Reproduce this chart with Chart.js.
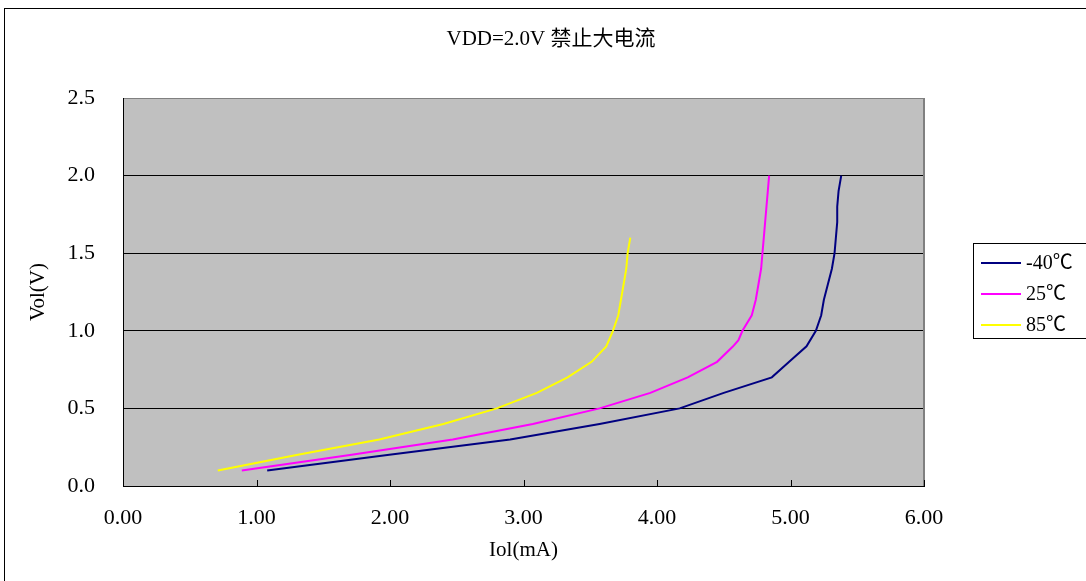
<!DOCTYPE html>
<html>
<head>
<meta charset="utf-8">
<title>VDD=2.0V 禁止大电流</title>
<script src="https://cdn.jsdelivr.net/npm/chart.js@4/dist/chart.umd.min.js"></script>
<style>
    body { margin: 0; background: #fff; }
    #wrap { width: 1086px; height: 581px; }
</style>
</head>
<body>
<div id="wrap"><canvas id="iolChart" width="1086" height="581"></canvas></div>
<script>
// Chart data
const chartTitle = 'VDD=2.0V 禁止大电流';
const xTitle = 'Iol(mA)';
const yTitle = 'Vol(V)';
const seriesNames = ['-40℃', '25℃', '85℃'];
const seriesColors = ['#000080', '#ff00ff', '#ffff00'];

// Vol (V) steps
const volM40 = [0.1, 0.2, 0.3, 0.4, 0.5, 0.6, 0.7, 0.8, 0.9, 1.0, 1.1, 1.2, 1.3, 1.4, 1.5, 1.6, 1.7, 1.8, 1.9, 2.0];
const vol25 = [0.1, 0.2, 0.3, 0.4, 0.5, 0.6, 0.7, 0.8, 0.9, 0.94, 1.0, 1.1, 1.2, 1.3, 1.4, 1.5, 1.6, 1.7, 1.8, 1.9, 2.0];
const vol85 = [0.1, 0.2, 0.3, 0.4, 0.5, 0.6, 0.7, 0.8, 0.9, 1.0, 1.1, 1.2, 1.3, 1.4, 1.5, 1.6];

// Iol (mA) at each step
const iolM40 = [1.08, 1.98, 2.90, 3.57, 4.17, 4.50, 4.86, 4.99, 5.12, 5.19, 5.23, 5.25, 5.28, 5.31, 5.33, 5.34, 5.35, 5.35, 5.36, 5.38];
const iol25 = [0.89, 1.70, 2.47, 3.07, 3.57, 3.95, 4.23, 4.45, 4.57, 4.61, 4.64, 4.71, 4.74, 4.76, 4.78, 4.79, 4.80, 4.81, 4.82, 4.83, 4.84];
const iol85 = [0.71, 1.30, 1.92, 2.40, 2.80, 3.10, 3.33, 3.51, 3.62, 3.67, 3.71, 3.73, 3.75, 3.77, 3.78, 3.80];

// Axis tick labels
const xTickLabels = ['0.00', '1.00', '2.00', '3.00', '4.00', '5.00', '6.00'];
const yTickLabels = ['0.0', '0.5', '1.0', '1.5', '2.0', '2.5'];

const FONT = "'Liberation Serif', 'Noto Sans CJK SC', serif";

function toPoints(xs, ys) {
    return xs.map(function(x, i) { return { x: x, y: ys[i] }; });
}

// Background, frame, inside tick marks, title and legend
const framePlugin = {
    id: 'frame',
    beforeDraw: function(chart) {
        const ctx = chart.ctx;
        const a = chart.chartArea;
        ctx.save();
        ctx.fillStyle = '#ffffff';
        ctx.fillRect(0, 0, chart.width, chart.height);
        ctx.strokeStyle = '#000000';
        ctx.lineWidth = 1;
        ctx.strokeRect(4.5, 8.5, chart.width + 20, chart.height + 20);
        ctx.fillStyle = '#c0c0c0';
        ctx.fillRect(a.left, a.top, a.right - a.left, a.bottom - a.top);
        ctx.restore();
    },
    afterDraw: function(chart) {
        const ctx = chart.ctx;
        const a = chart.chartArea;
        const xs = chart.scales.x;
        ctx.save();

        // plot area right edge
        ctx.strokeStyle = '#808080';
        ctx.lineWidth = 2;
        ctx.beginPath();
        ctx.moveTo(Math.round(a.right), a.top);
        ctx.lineTo(Math.round(a.right), a.bottom);
        ctx.stroke();

        // inside tick marks on the x axis
        ctx.strokeStyle = '#000000';
        ctx.lineWidth = 1;
        xTickLabels.forEach(function(lbl) {
            const px = Math.round(xs.getPixelForValue(parseFloat(lbl))) + 0.5;
            ctx.beginPath();
            ctx.moveTo(px, a.bottom);
            ctx.lineTo(px, a.bottom - 6);
            ctx.stroke();
        });

        // title
        ctx.fillStyle = '#000000';
        ctx.font = '21px ' + FONT;
        ctx.textAlign = 'center';
        ctx.textBaseline = 'middle';
        ctx.fillText(chartTitle, 551, 39);

        // legend
        ctx.strokeStyle = '#000000';
        ctx.lineWidth = 1;
        ctx.strokeRect(973.5, 243.5, 200, 95);
        ctx.font = '20px ' + FONT;
        ctx.textAlign = 'left';
        chart.data.datasets.forEach(function(ds, i) {
            const y = 263 + i * 31;
            ctx.strokeStyle = ds.borderColor;
            ctx.lineWidth = 2;
            ctx.beginPath();
            ctx.moveTo(981, y);
            ctx.lineTo(1021, y);
            ctx.stroke();
            ctx.fillStyle = '#000000';
            ctx.fillText(ds.label, 1026, y + 1);
        });
        ctx.restore();
    }
};

const iolChart = new Chart(document.getElementById('iolChart'), {
    type: 'scatter',
    data: {
        datasets: [
            { label: seriesNames[0], data: toPoints(iolM40, volM40), borderColor: seriesColors[0] },
            { label: seriesNames[1], data: toPoints(iol25, vol25), borderColor: seriesColors[1] },
            { label: seriesNames[2], data: toPoints(iol85, vol85), borderColor: seriesColors[2] }
        ]
    },
    options: {
        responsive: false,
        animation: false,
        showLine: true,
        elements: {
            line: { borderWidth: 2, tension: 0, fill: false },
            point: { radius: 0, hoverRadius: 0 }
        },
        layout: { padding: { top: 98, right: 162, bottom: 0, left: 0 } },
        plugins: {
            legend: { display: false },
            title: { display: false },
            tooltip: { enabled: false }
        },
        scales: {
            x: {
                type: 'linear',
                min: 0,
                max: 6,
                afterFit: function(s) { s.height = 95; },
                afterBuildTicks: function(s) {
                    s.ticks = xTickLabels.map(function(l) { return { value: parseFloat(l) }; });
                },
                ticks: {
                    padding: 19,
                    color: '#000000',
                    font: { family: FONT, size: 22 },
                    callback: function(v, i) { return xTickLabels[i]; }
                },
                grid: { drawOnChartArea: false, drawTicks: false },
                border: { color: '#000000', width: 1 },
                title: {
                    display: true,
                    text: xTitle,
                    color: '#000000',
                    font: { family: FONT, size: 21 },
                    padding: { top: 0, bottom: 18 }
                }
            },
            y: {
                type: 'linear',
                min: 0,
                max: 2.5,
                afterFit: function(s) { s.width = 123; },
                afterBuildTicks: function(s) {
                    s.ticks = yTickLabels.map(function(l) { return { value: parseFloat(l) }; });
                },
                ticks: {
                    padding: 28,
                    color: '#000000',
                    font: { family: FONT, size: 22 },
                    callback: function(v, i) { return yTickLabels[i]; }
                },
                grid: {
                    drawTicks: false,
                    lineWidth: 1,
                    color: function(c) {
                        return c.tick && c.tick.value === 2.5 ? '#808080' : '#000000';
                    }
                },
                border: { color: '#000000', width: 1 },
                title: {
                    display: true,
                    text: yTitle,
                    color: '#000000',
                    font: { family: FONT, size: 21 },
                    padding: { top: 26, bottom: 0 }
                }
            }
        }
    },
    plugins: [framePlugin]
});
</script>
</body>
</html>
